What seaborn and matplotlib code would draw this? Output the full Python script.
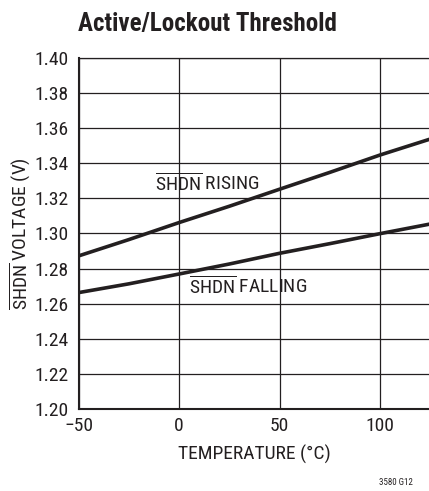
import seaborn as sns
import numpy as np
import pandas as pd
import matplotlib.pyplot as plt
from matplotlib import font_manager

temps = [-50, -25, 0, 25, 50, 75, 100, 125]
rising = [1.2872, 1.2965, 1.3062, 1.3155, 1.3252, 1.3348, 1.3447, 1.3538]
falling = [1.2663, 1.2713, 1.2769, 1.2826, 1.2887, 1.2942, 1.2999, 1.3054]
yticks = [1.20, 1.22, 1.24, 1.26, 1.28, 1.30, 1.32, 1.34, 1.36, 1.38, 1.40]
xticks = [-50, 0, 50, 100]

installed = {f.name for f in font_manager.fontManager.ttflist}
base = next((n for n in ['Liberation Sans Narrow', 'Roboto Condensed', 'Open Sans Condensed',
                         'Liberation Sans', 'Roboto'] if n in installed), 'DejaVu Sans')

sns.set_style('white')
plt.rcParams['font.family'] = [base, 'DejaVu Sans']
plt.rcParams['mathtext.fontset'] = 'custom'
plt.rcParams['mathtext.rm'] = base

ink = '#231f20'

df = pd.DataFrame({'temp': temps * 2,
                   'volt': rising + falling,
                   'edge': ['rising'] * len(temps) + ['falling'] * len(temps)})

fig = plt.figure(figsize=(4.29, 4.91), dpi=100)
ax = fig.add_axes([0.183, 0.167, 0.82, 0.715])

sns.lineplot(data=df, x='temp', y='volt', units='edge', estimator=None,
             color=ink, lw=2.6, ax=ax, legend=False)

ax.set_xlim(-50, 125)
ax.set_ylim(1.20, 1.40)
ax.set_xticks(xticks)
ax.set_xticklabels(['\u221250', '0', '50', '100'])
ax.set_yticks(yticks)
ax.set_yticklabels([f'{v:.2f}' for v in yticks])
ax.grid(True, color=ink, lw=0.9)
ax.tick_params(labelsize=14, colors=ink, length=0)
ax.tick_params(axis='x', pad=6)
ax.tick_params(axis='y', pad=7)
for s in ['left', 'bottom']:
    ax.spines[s].set_color(ink)
    ax.spines[s].set_linewidth(1.5)
for s in ['top', 'right']:
    ax.spines[s].set_color(ink)
    ax.spines[s].set_linewidth(0.9)

ax.set_xlabel('TEMPERATURE (\u00b0C)', fontsize=14, color=ink, labelpad=7)
ax.set_ylabel(r'$\overline{\mathrm{SHDN}}$ VOLTAGE (V)', fontsize=14,
              color=ink, labelpad=1)

ax.text(-12, 1.3288, r'$\overline{\mathrm{SHDN}}$ RISING', fontsize=14,
        color=ink, va='center', ha='left')
ax.text(5, 1.2700, r'$\overline{\mathrm{SHDN}}$ FALLING', fontsize=14,
        color=ink, va='center', ha='left')

fig.text(0.182, 0.951, 'Active/Lockout Threshold', fontsize=18,
         fontweight='bold', color=ink, ha='left', va='center')
fig.text(0.963, 0.008, '3580 G12', fontsize=6.5, color=ink,
         ha='right', va='bottom')

fig.savefig('out.png', dpi=100)
